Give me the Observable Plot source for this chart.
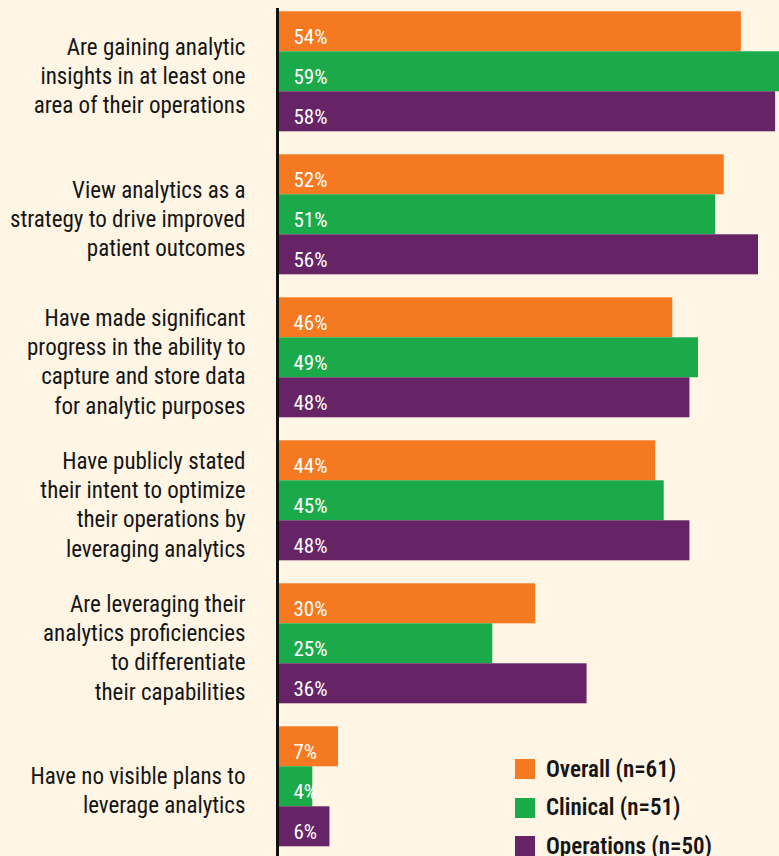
<!DOCTYPE html>
<html>
<head>
<meta charset="utf-8">
<script src="https://cdn.jsdelivr.net/npm/d3@7"></script>
<script src="https://cdn.jsdelivr.net/npm/@observablehq/plot@0.6"></script>
<style>
  html, body { margin: 0; padding: 0; background: #FEF5E5; overflow: hidden; }
  #wrap { position: relative; width: 779px; height: 856px; font-family: "Liberation Sans Narrow", "Roboto Condensed", "Arial Narrow", sans-serif; }
  #legend { position: absolute; left: 515px; top: 750px; }
  .row { display: flex; align-items: center; height: 38.5px; }
  .sw { width: 20px; height: 20px; margin-right: 11px; }
  .lab { font-size: 23px; color: #151515; font-weight: 600; white-space: nowrap; }
</style>
</head>
<body>
<div id="wrap"></div>
<script>
const categories = [
  "Are gaining analytic\ninsights in at least one\narea of their operations",
  "View analytics as a\nstrategy to drive improved\npatient outcomes",
  "Have made significant\nprogress in the ability to\ncapture and store data\nfor analytic purposes",
  "Have publicly stated\ntheir intent to optimize\ntheir operations by\nleveraging analytics",
  "Are leveraging their\nanalytics proficiencies\nto differentiate\ntheir capabilities",
  "Have no visible plans to\nleverage analytics"
];
const series = ["Overall", "Clinical", "Operations"];
const seriesLabels = ["Overall (n=61)", "Clinical (n=51)", "Operations (n=50)"];
const colors = ["#F47920", "#1BAA4A", "#662466"];
const overall = [54, 52, 46, 44, 30, 7];
const clinical = [59, 51, 49, 45, 25, 4];
const operations = [58, 56, 48, 48, 36, 6];

const valuesBySeries = [overall, clinical, operations];
const data = [];
categories.forEach((c, i) => {
  series.forEach((s, j) => data.push({category: c, series: s, value: valuesBySeries[j][i]}));
});

const font = '"Liberation Sans Narrow", "Roboto Condensed", "Arial Narrow", sans-serif';

const chart = Plot.plot({
  width: 779,
  height: 856,
  marginLeft: 278,
  marginRight: 0,
  marginTop: 9.7,
  marginBottom: 8,
  style: {background: "transparent", fontFamily: font, color: "#151515", overflow: "hidden"},
  x: {domain: [0, 58.45], axis: null},
  y: {domain: series, padding: 0, axis: null},
  fy: {domain: categories, paddingInner: 0.148, paddingOuter: 0},
  color: {domain: series, range: colors},
  marks: [
    Plot.barX(data, {x: "value", y: "series", fy: "category", fill: "series", clip: true}),
    Plot.text(data, {x: 0, y: "series", fy: "category", text: d => d.value + "%", dx: 15, dy: 5, textAnchor: "start", fill: "white", fontSize: 21}),
    Plot.axisFy({anchor: "left", tickSize: 0, tickPadding: 33, fontSize: 23, lineHeight: 1.27, dy: 3, label: null, textAnchor: "end"})
  ]
});

document.getElementById("wrap").appendChild(chart);

// vertical baseline axis at x = 0 spanning the whole chart
const x0 = chart.scale("x").apply(0);
d3.select(chart).append("line")
  .attr("x1", x0 - 0.5).attr("x2", x0 - 0.5)
  .attr("y1", 8).attr("y2", 856)
  .attr("stroke", "#111").attr("stroke-width", 3);

const legend = document.createElement("div");
legend.id = "legend";
series.forEach((s, i) => {
  const row = document.createElement("div");
  row.className = "row";
  const sw = document.createElement("div");
  sw.className = "sw";
  sw.style.background = colors[i];
  const lab = document.createElement("div");
  lab.className = "lab";
  lab.textContent = seriesLabels[i];
  row.appendChild(sw); row.appendChild(lab);
  legend.appendChild(row);
});
document.getElementById("wrap").appendChild(legend);
</script>
</body>
</html>
